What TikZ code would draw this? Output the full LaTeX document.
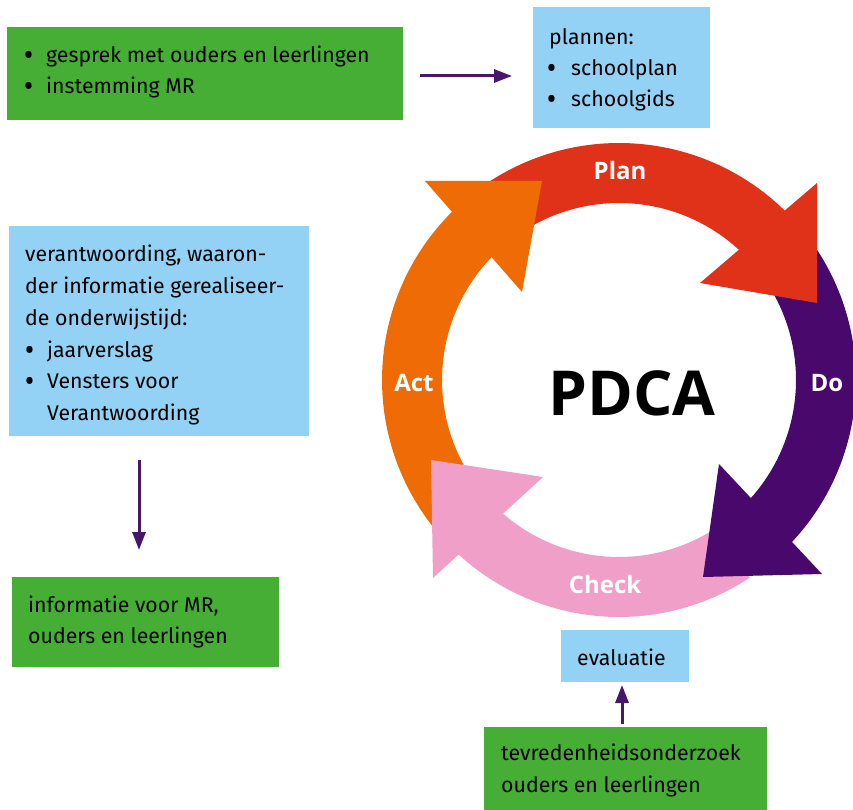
\documentclass[tikz,border=0pt]{standalone}
\usepackage{fontspec}
\setmainfont{Fira Sans}
\newfontfamily\lblfont{Open Sans}
\usetikzlibrary{arrows.meta}
\definecolor{gboxc}{HTML}{46AE34}
\definecolor{bboxc}{HTML}{93D2F4}
\definecolor{redc}{HTML}{E03119}
\definecolor{orangec}{HTML}{EE6B05}
\definecolor{purplec}{HTML}{48086C}
\definecolor{pinkc}{HTML}{F0A0C8}
\definecolor{connc}{HTML}{47186A}
\tikzset{
  gbox/.style={fill=gboxc, inner sep=0pt, outer sep=0pt},
  bbox/.style={fill=bboxc, inner sep=0pt, outer sep=0pt},
  txt/.style={anchor=base west, inner sep=0pt, font=\fontsize{21.3}{24}\selectfont},
  bul/.style={anchor=base west, inner sep=0pt, yshift=-3pt, font=\lblfont\fontsize{29}{30}\selectfont},
  cyclbl/.style={anchor=base, inner sep=0pt, text=white, font=\lblfont\bfseries\fontsize{24}{28}\selectfont},
  conn/.style={draw=connc, line width=3pt, -{Triangle[length=18pt,width=13pt]}},
}
\begin{document}
\begin{tikzpicture}[x=1pt,y=-1pt]
\useasboundingbox (0,0) rectangle (853,810);
% boxes
\node[gbox, minimum width=396pt, minimum height=93pt] (g1) at (205,73.5) {};
\node[bbox, minimum width=177pt, minimum height=121pt] (b1) at (621.5,67.5) {};
\node[bbox, minimum width=300pt, minimum height=210pt] (b2) at (159,331) {};
\node[gbox, minimum width=267pt, minimum height=90pt] (g2) at (145.5,622) {};
\node[bbox, minimum width=128pt, minimum height=52pt] (b3) at (625,656) {};
\node[gbox, minimum width=283pt, minimum height=83pt] (g3) at (625.5,768.5) {};
% texts
\node[bul] (g1u1) at (23,63) {•};
\node[txt] (g1t1) at (46,63) {gesprek met ouders en leerlingen};
\node[bul] (g1u2) at (23,94) {•};
\node[txt] (g1t2) at (46,94) {instemming MR};
\node[txt] (b1t0) at (549,45) {plannen:};
\node[bul] (b1u1) at (546,76) {•};
\node[txt] (b1t1) at (571,76) {schoolplan};
\node[bul] (b1u2) at (546,107) {•};
\node[txt] (b1t2) at (571,107) {schoolgids};
\node[txt] (b2t1) at (25,261) {verantwoording, waaron-};
\node[txt] (b2t2) at (25,293) {der informatie gerealiseer-};
\node[txt] (b2t3) at (25,325) {de onderwijstijd:};
\node[bul] (b2u4) at (24,357) {•};
\node[txt] (b2t4) at (47,357) {jaarverslag};
\node[bul] (b2u5) at (24,388) {•};
\node[txt] (b2t5) at (47,388) {Vensters voor};
\node[txt] (b2t6) at (47,420) {Verantwoording};
\node[txt] (g2t1) at (28,612) {informatie voor MR,};
\node[txt] (g2t2) at (28,643) {ouders en leerlingen};
\node[txt] (b3t1) at (577,665) {evaluatie};
\node[txt] (g3t1) at (501,760) {tevredenheidsonderzoek};
\node[txt] (g3t2) at (501,792) {ouders en leerlingen};
% connectors
\draw[conn, shorten <=17pt, shorten >=21pt] ([yshift=-2.5pt]g1.east) -- ([yshift=-8.5pt]b1.west);
\draw[conn, shorten <=24pt, shorten >=27pt] ([xshift=-20pt]b2.south) -- ([xshift=-6.5pt]g2.north);
\draw[conn, shorten <=3pt, shorten >=3pt] ([xshift=-3.5pt]g3.north) -- ([xshift=-3pt]b3.south);
% PDCA cycle bodies
\fill[redc] plot[domain=-123:-44,samples=50] ({619+237*cos(\x)},{380+237*sin(\x)})
  -- plot[domain=-47:-119,samples=50] ({619+177*cos(\x)},{380+177*sin(\x)}) -- cycle;
\fill[purplec] plot[domain=-33.3:45,samples=50] ({619+237*cos(\x)},{380+237*sin(\x)})
  -- plot[domain=43:-29,samples=50] ({619+177*cos(\x)},{380+177*sin(\x)}) -- cycle;
\fill[pinkc] plot[domain=56.5:134,samples=50] ({619+237*cos(\x)},{380+237*sin(\x)})
  -- plot[domain=132:59,samples=50] ({619+177*cos(\x)},{380+177*sin(\x)}) -- cycle;
\fill[orangec] plot[domain=142.2:227,samples=50] ({619+237*cos(\x)},{380+237*sin(\x)})
  -- plot[domain=225.5:150,samples=50] ({619+177*cos(\x)},{380+177*sin(\x)}) -- cycle;
% heads
\fill[redc] (817,183) -- (817,303) -- (700,283) -- cycle;
\fill[purplec] (822,574) -- (703,577) -- (719,464) -- cycle;
\fill[pinkc] (433,578) -- (431,460) -- (543,477) -- cycle;
\fill[orangec] (425,181) -- (542,181) -- (522,292) -- cycle;
% labels
\node[cyclbl] (plan) at (620,180) {Plan};
\node[cyclbl] (do) at (827,391) {Do};
\node[cyclbl] (act) at (414,391) {Act};
\node[cyclbl] (check) at (605,593) {Check};
\node[anchor=base, inner sep=0pt, font=\lblfont\bfseries\fontsize{62}{70}\selectfont] (pdca) at (632,415) {PDCA};
\end{tikzpicture}
\end{document}
